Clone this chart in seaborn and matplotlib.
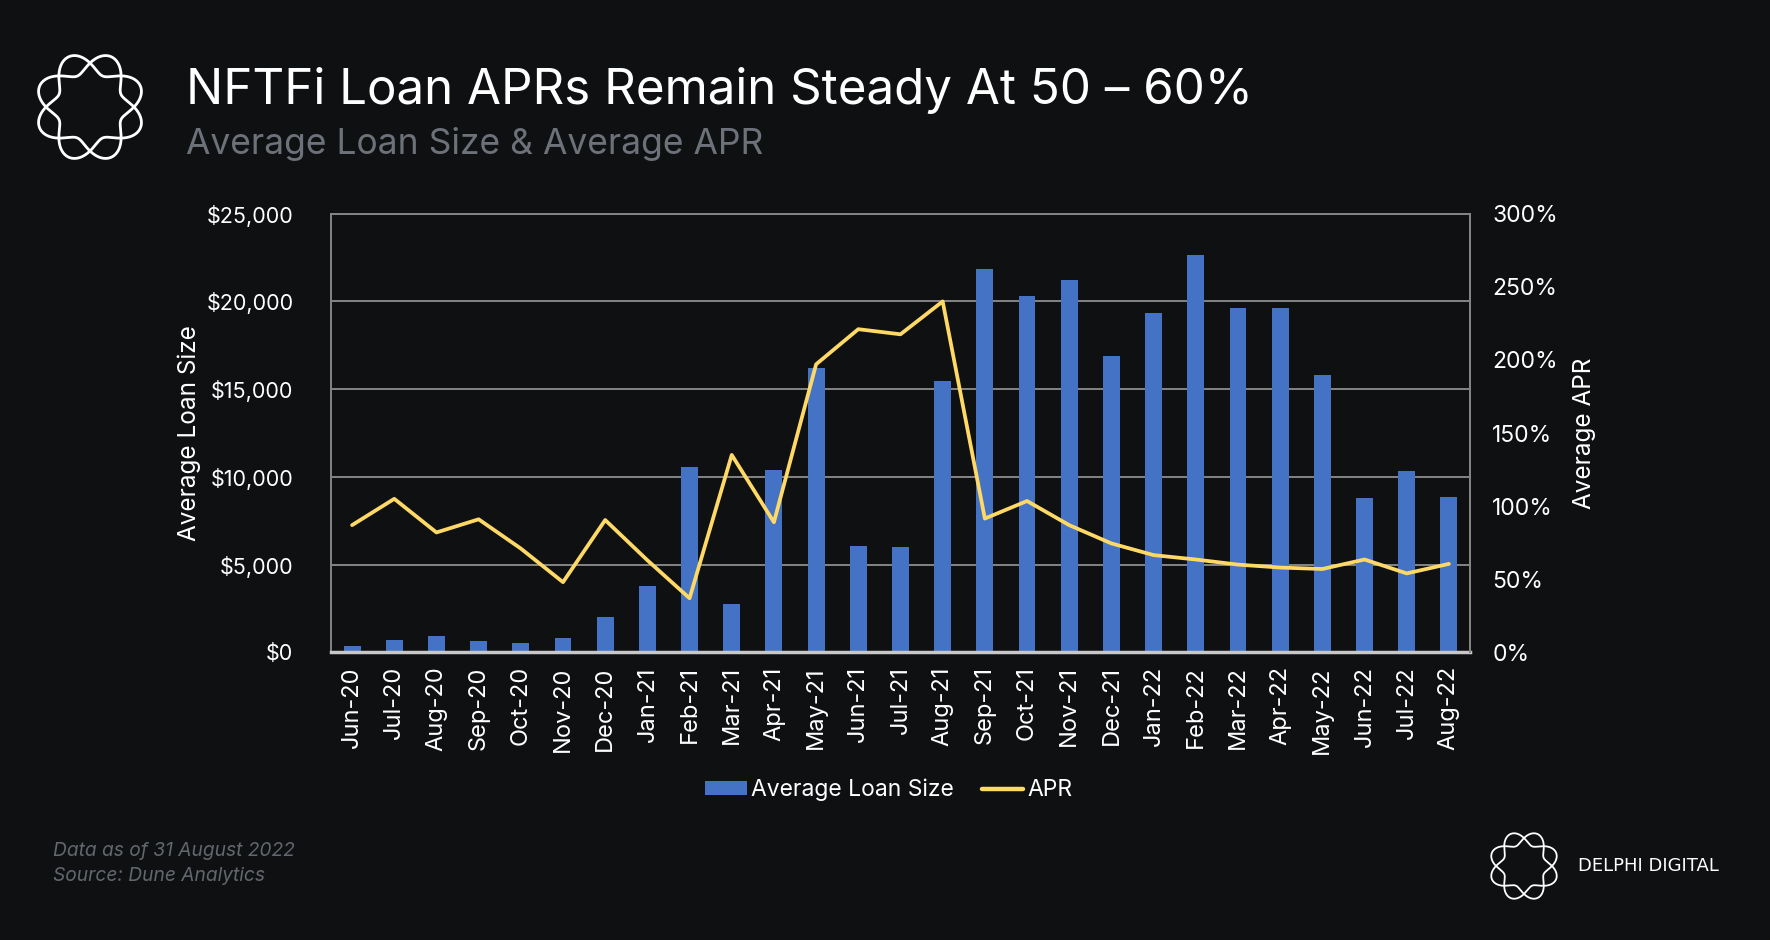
import numpy as np
import pandas as pd
import matplotlib
matplotlib.use('Agg')
import matplotlib.pyplot as plt
import seaborn as sns
from matplotlib.lines import Line2D
from matplotlib.patches import Patch
from matplotlib.ticker import FuncFormatter, MultipleLocator

# Data
months = ['Jun-20', 'Jul-20', 'Aug-20', 'Sep-20', 'Oct-20', 'Nov-20', 'Dec-20',
          'Jan-21', 'Feb-21', 'Mar-21', 'Apr-21', 'May-21', 'Jun-21', 'Jul-21',
          'Aug-21', 'Sep-21', 'Oct-21', 'Nov-21', 'Dec-21', 'Jan-22', 'Feb-22',
          'Mar-22', 'Apr-22', 'May-22', 'Jun-22', 'Jul-22', 'Aug-22']
loan_size = [380, 680, 950, 620, 550, 840, 2030, 3790, 10580, 2770, 10400, 16180,
             6070, 6000, 15480, 21870, 20320, 21220, 16880, 19340, 22660, 19630,
             19630, 15810, 8820, 10330, 8860]
apr = [87, 105, 82, 91, 71, 48, 90.5, 63, 37, 135, 89, 197, 221, 217.5, 240,
       91.5, 103.5, 87, 74.5, 66.5, 63.5, 60, 58, 57, 63.5, 54, 60.5]

BG = '#0f1012'
BLUE = '#4472c4'
GOLD = '#ffd966'
GRID = '#858585'
SUB = '#6c717a'

df = pd.DataFrame({'month': months, 'loan': loan_size, 'apr': apr})
df['pos'] = range(len(df))

sns.set_theme(style='dark')
plt.rcParams['font.family'] = ['Inter', 'DejaVu Sans']

fig = plt.figure(figsize=(17.7, 9.4), dpi=100, facecolor=BG)

# decoration layer (logos)
deco = fig.add_axes([0, 0, 1, 1], zorder=-1)
deco.set_xlim(0, 1770)
deco.set_ylim(940, 0)
deco.axis('off')
deco.patch.set_visible(False)


def draw_logo(axd, cx, cy, R, lw):
    t = np.linspace(0, 2 * np.pi, 900)
    for ph in (0, np.pi):
        r = R * (1 + 0.24 * np.sin(4 * t + ph))
        axd.plot(cx + r * np.cos(t), cy + r * np.sin(t), color='white', lw=lw,
                 solid_capstyle='round')


draw_logo(deco, 90, 107, 44, 2.0)
draw_logo(deco, 1524, 866, 28, 1.3)

ax = fig.add_axes([0.187, 0.306, 0.6435, 0.4667])
ax.set_facecolor(BG)
sns.barplot(data=df, x='month', y='loan', color=BLUE, saturation=1,
            width=0.4, ax=ax, zorder=2, edgecolor='none', linewidth=0)
ax.set_ylim(0, 25000)
ax.yaxis.set_major_locator(MultipleLocator(5000))
ax.yaxis.set_major_formatter(FuncFormatter(lambda v, p: f'${v:,.0f}'))
ax.yaxis.grid(True, color=GRID, lw=1.4)
ax.xaxis.grid(False)
ax.set_axisbelow(True)
ax.set_xlabel('')
ax.set_ylabel('')
ax.tick_params(axis='y', colors='white', labelsize=15.5, length=0, pad=27)
ax.tick_params(axis='x', colors='white', labelsize=17, length=0, pad=10,
               labelrotation=90)
for s in ['left', 'top', 'right']:
    ax.spines[s].set_color(GRID)
    ax.spines[s].set_linewidth(1.4)
ax.spines['bottom'].set_color('#c8c8c8')
ax.spines['bottom'].set_linewidth(2.5)

ax2 = ax.twinx()
sns.lineplot(data=df, x='pos', y='apr', color=GOLD, lw=2.7, ax=ax2, zorder=5)
ax2.set_ylim(0, 300)
ax2.yaxis.set_major_locator(MultipleLocator(50))
ax2.yaxis.set_major_formatter(FuncFormatter(lambda v, p: f'{v:.0f}%'))
ax2.set_xlabel('')
ax2.set_ylabel('')
ax2.grid(False)
ax2.tick_params(axis='y', colors='white', labelsize=16.5, length=0, pad=16)
for s in ['left', 'top', 'bottom']:
    ax2.spines[s].set_visible(False)
ax2.spines['right'].set_color(GRID)
ax2.spines['right'].set_linewidth(1.4)
ax.set_xlim(-0.5, len(months) - 0.5)

# axis titles
fig.text(189 / 1770, 1 - 433 / 940, 'Average Loan Size', rotation=90,
         ha='center', va='center', color='white', fontsize=17.5)
fig.text(1585 / 1770, 1 - 433 / 940, 'Average APR', rotation=90,
         ha='center', va='center', color='white', fontsize=17.5)

# legend
handles = [Patch(facecolor=BLUE, edgecolor='none', label='Average Loan Size'),
           Line2D([0], [0], color=GOLD, lw=3.2, label='APR')]
fig.legend(handles=handles, loc='center', bbox_to_anchor=(889 / 1770, 1 - 790 / 940),
           ncol=2, frameon=False, fontsize=16.5, labelcolor='white',
           handlelength=1.8, handleheight=0.6, handletextpad=0.2,
           columnspacing=1.2)

# title block
fig.text(186 / 1770, 1 - 90 / 940, 'NFTFi Loan APRs Remain Steady At 50 – 60%',
         color='white', fontsize=35.5, va='center', ha='left')
fig.text(186 / 1770, 1 - 144 / 940, 'Average Loan Size & Average APR',
         color=SUB, fontsize=25.5, va='center', ha='left')

# footnotes
fig.text(53 / 1770, 1 - 851 / 940, 'Data as of 31 August 2022', style='italic',
         color='#62666d', fontsize=13.8, va='center')
fig.text(53 / 1770, 1 - 876 / 940, 'Source: Dune Analytics', style='italic',
         color='#62666d', fontsize=13.8, va='center')
fig.text(1578 / 1770, 1 - 866 / 940, 'DELPHI DIGITAL', color='white',
         fontsize=13, va='center', family=['DejaVu Sans'])

fig.savefig('out.png', dpi=100, facecolor=BG)
